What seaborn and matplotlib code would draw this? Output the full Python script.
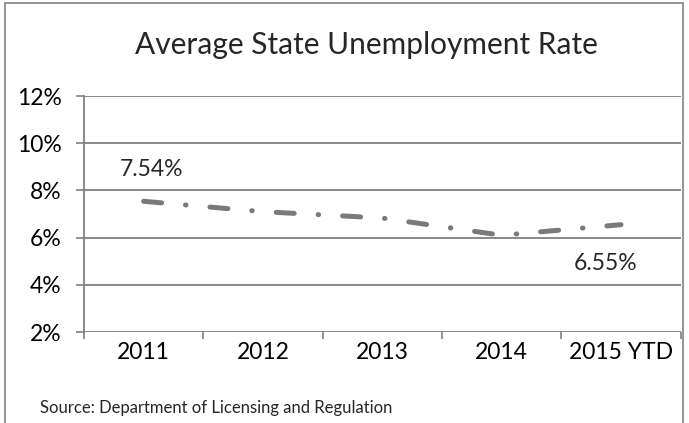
import pandas as pd
import numpy as np
import matplotlib
matplotlib.use("Agg")
import matplotlib.pyplot as plt
import seaborn as sns
from matplotlib.patches import Rectangle

# chart values
years = ['2011', '2012', '2013', '2014', '2015 YTD']
rates = [7.54, 7.10, 6.83, 6.10, 6.55]
y_ticks = [2, 4, 6, 8, 10, 12]

df = pd.DataFrame({'Year': years, 'Rate': rates})

sns.set_theme(style='white')
plt.rcParams['font.family'] = ['Lato', 'DejaVu Sans']

gray = '#808080'
fig = plt.figure(figsize=(6.89, 4.23), dpi=100)
ax = fig.add_axes([0.1219, 0.215, 0.866, 0.558])

sns.lineplot(x='Year', y='Rate', data=df, ax=ax, color='#7a7a7a', linewidth=3.6,
             sort=False)
line = ax.lines[0]
line.set_dashes((3.6, 4.8, 0.1, 4.8))
line.set_dash_capstyle('round')

ax.set_ylim(2, 12)
ax.set_xlim(-0.5, len(years) - 0.5)
ax.set_yticks(y_ticks)
ax.set_yticklabels([f'{t}%' for t in y_ticks], fontsize=16.5)
ax.set_xticks(range(len(years)))
ax.set_xticklabels(years, fontsize=16.5)
ax.set_xticks(np.arange(-0.5, len(years)), minor=True)
ax.tick_params(axis='x', which='major', length=0, pad=7, colors='black')
ax.tick_params(axis='x', which='minor', length=5, width=1.2, color=gray,
               bottom=True, direction='out')
ax.tick_params(axis='y', length=6, width=1.2, color=gray, left=True,
               direction='out', pad=10)
ax.tick_params(axis='y', colors=gray, labelcolor='black')

ax.grid(axis='y', color=gray, linewidth=1.3)
ax.set_axisbelow(True)
for s in ['top', 'right', 'bottom']:
    ax.spines[s].set_visible(False)
ax.spines['left'].set_color(gray)
ax.spines['left'].set_linewidth(1.3)
ax.set_xlabel('')
ax.set_ylabel('')

# data labels for first and last points
ax.annotate(f'{rates[0]:.2f}%', (0, rates[0]), xytext=(6, 18),
            textcoords='offset points', ha='center', fontsize=16.5)
ax.annotate(f'{rates[-1]:.2f}%', (len(years) - 1, rates[-1]), xytext=(-11, -33),
            textcoords='offset points', ha='center', fontsize=16.5)

fig.text(0.532, 0.893, 'Average State Unemployment Rate', ha='center',
         va='center', fontsize=21.5)
fig.text(0.058, 0.035, 'Source: Department of Licensing and Regulation',
         ha='left', va='center', fontsize=12)

# chart border
fig.patches.append(Rectangle((5 / 689, -0.05), 678 / 689, 1.05 - 3 / 423,
                             transform=fig.transFigure, fill=False,
                             edgecolor='#8c8c8c', linewidth=1.3))

fig.savefig('out.png', dpi=100)
